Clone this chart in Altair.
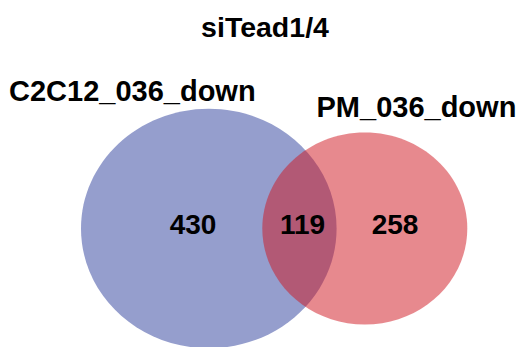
import altair as alt
import pandas as pd

# ---- data ----
title_text = "siTead1/4"
set_names = ["C2C12_036_down", "PM_036_down"]
only_counts = [430, 258]      # counts unique to each set
shared_count = 119            # count in the intersection
set_totals = [only_counts[0] + shared_count, only_counts[1] + shared_count]

# ---- layout / style (pixel space of the drawing area) ----
W, H = 509, 339
set_cx = [200.8, 356.8]
set_cy = [220.5, 220.5]
set_colors = ["#959ECD", "#D0141E"]
set_opacity = [1.0, 0.5]
count_x = [185, 294.5, 387]
count_y = [225.5, 225.5, 225.5]
label_x = [1, 308.5]
label_y = [93, 109]
title_pos = (257, 29)
FONT = "Liberation Sans"

# ellipse symbol (slightly wider than tall, as in the reference)
e = 0.937
k = 0.5523
ellipse_path = (
    f"M -1 0 C -1 {-k*e:.4f} {-k:.4f} {-e:.4f} 0 {-e:.4f} "
    f"C {k:.4f} {-e:.4f} 1 {-k*e:.4f} 1 0 "
    f"C 1 {k*e:.4f} {k:.4f} {e:.4f} 0 {e:.4f} "
    f"C {-k:.4f} {e:.4f} -1 {k*e:.4f} -1 0 Z"
)

xs = alt.Scale(domain=[0, W], nice=False, zero=False)
ys = alt.Scale(domain=[H, 0], nice=False, zero=False)

sets_df = pd.DataFrame({
    "name": set_names,
    "total": set_totals,
    "cx": set_cx,
    "cy": set_cy,
    "color": set_colors,
    "op": set_opacity,
    "order": [0, 1],
})

size_scale = alt.Scale(domain=[min(set_totals), max(set_totals)],
                       range=[205.0 ** 2, 255.6 ** 2], zero=False, nice=False)

ellipses = alt.Chart(sets_df).mark_point(
    shape=ellipse_path, filled=True, strokeWidth=0
).encode(
    x=alt.X("cx:Q", scale=xs, axis=None),
    y=alt.Y("cy:Q", scale=ys, axis=None),
    size=alt.Size("total:Q", scale=size_scale, legend=None),
    color=alt.Color("color:N", scale=None),
    opacity=alt.Opacity("op:Q", scale=None),
    order=alt.Order("order:Q"),
)

counts_df = pd.DataFrame({
    "value": [str(only_counts[0]), str(shared_count), str(only_counts[1])],
    "x": count_x,
    "y": count_y,
})
counts = alt.Chart(counts_df).mark_text(
    font=FONT, fontSize=28, fontWeight="bold", color="black",
    align="center", baseline="alphabetic"
).encode(
    x=alt.X("x:Q", scale=xs, axis=None),
    y=alt.Y("y:Q", scale=ys, axis=None),
    text="value:N",
)

labels_df = pd.DataFrame({"name": set_names, "x": label_x, "y": label_y})
labels = alt.Chart(labels_df).mark_text(
    font=FONT, fontSize=29, fontWeight="bold", color="black",
    align="left", baseline="alphabetic"
).encode(
    x=alt.X("x:Q", scale=xs, axis=None),
    y=alt.Y("y:Q", scale=ys, axis=None),
    text="name:N",
)

title_df = pd.DataFrame({"t": [title_text], "x": [title_pos[0]], "y": [title_pos[1]]})
title = alt.Chart(title_df).mark_text(
    font=FONT, fontSize=28.5, fontWeight="bold", color="black",
    align="center", baseline="alphabetic"
).encode(
    x=alt.X("x:Q", scale=xs, axis=None),
    y=alt.Y("y:Q", scale=ys, axis=None),
    text="t:N",
)

chart = alt.layer(ellipses, counts, labels, title).properties(
    width=W, height=H, padding=0, autosize="none", background="white"
).configure_view(stroke=None)

chart.save("out.html", embed_options={"renderer": "svg", "actions": False})
